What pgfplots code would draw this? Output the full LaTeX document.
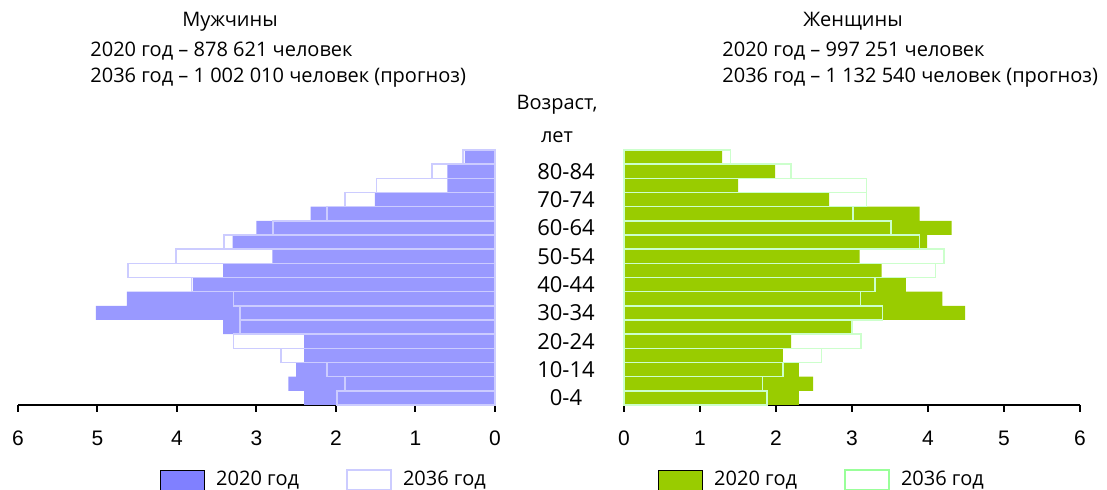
\documentclass[border=0pt]{standalone}
\usepackage{fontspec}
\setmainfont{Open Sans}
\newfontfamily\numfont{Liberation Sans}
\usepackage{pgfplots}
\pgfplotsset{compat=1.18}
\usepackage{pgfplotstable}

\definecolor{menfill}{HTML}{9999FF}
\definecolor{menline}{HTML}{CCCCFF}
\definecolor{menleg}{HTML}{8080FF}
\definecolor{womfill}{HTML}{99CC00}
\definecolor{womline}{HTML}{CCFFCC}
\definecolor{womlegline}{HTML}{99FF99}

\pgfplotstableread{
idx m2020 m2036 f2020 f2036
0  2.40 1.99 2.30 1.88
1  2.60 1.89 2.49 1.82
2  2.50 2.11 2.30 2.09
3  2.40 2.69 2.09 2.60
4  2.40 3.29 2.20 3.12
5  3.42 3.21 3.00 3.00
6  5.02 3.21 4.49 3.40
7  4.63 3.29 4.19 3.11
8  3.80 3.82 3.71 3.30
9  3.42 4.62 3.39 4.10
10 2.80 4.01 3.10 4.21
11 3.30 3.41 3.99 3.89
12 3.00 2.79 4.31 3.51
13 2.32 2.11 3.89 3.01
14 1.51 1.89 2.70 3.19
15 0.60 1.49 1.50 3.19
16 0.60 0.79 1.99 2.20
17 0.38 0.40 1.29 1.40
}\pyrdata

\newcommand\hdrfont{\fontsize{10}{12}\selectfont}
\newcommand\lblfont{\fontsize{10}{12}\selectfont}
\newcommand\agefont{\fontsize{11}{13}\selectfont}

\pgfplotsset{
  pyr/.style={
    scale only axis, height=127.5pt,
    ymin=-0.5, ymax=17.5, xmin=0, xmax=6,
    xbar, bar width=1, bar shift=0pt,
    axis x line*=bottom,
    axis line style={line width=1pt, black},
    xtick={0,...,6}, tick align=outside, major tick length=3.5pt,
    x tick style={line width=1pt, black},
    ytick=\empty,
    /pgf/number format/assume math mode=true,
    xticklabel style={font=\numfont\fontsize{10.5}{12}\selectfont, yshift=-6pt},
    clip=false,
    legend image code/.code={\draw[#1] (0pt,-5pt) rectangle (22pt,5pt);},
    legend style={draw=none, fill=none, legend columns=2, anchor=west,
      inner sep=0pt, font=\lblfont,
      nodes={inner sep=0pt},
      /tikz/every even column/.append style={column sep=23.5pt},
      /tikz/every odd column/.append style={column sep=5.5pt}},
    legend cell align=left,
  }
}

\begin{document}
\begin{tikzpicture}[x=0.5pt,y=0.5pt]
\useasboundingbox (0,0) rectangle (1107,490);

\node[font=\hdrfont, anchor=base] at (230,463) {Мужчины};
\node[font=\hdrfont, anchor=base west, inner sep=0pt] at (90,433) {2020 год – 878 621 человек};
\node[font=\hdrfont, anchor=base west, inner sep=0pt] at (90,407) {2036 год – 1 002 010 человек (прогноз)};
\node[font=\hdrfont, anchor=base] at (853,463) {Женщины};
\node[font=\hdrfont, anchor=base west, inner sep=0pt] at (722,433) {2020 год – 997 251 человек};
\node[font=\hdrfont, anchor=base west, inner sep=0pt] at (722,407) {2036 год – 1 132 540 человек (прогноз)};
\node[font=\hdrfont, anchor=base] at (557,380) {Возраст,};
\node[font=\hdrfont, anchor=base] at (557,347) {лет};

% Men
\begin{axis}[pyr, at={(9pt,42.5pt)}, anchor=south west, width=238.5pt,
  x dir=reverse, axis y line*=right,
  legend style={at={(axis description cs:0.2977,-0.294)}}]
  \addlegendimage{fill=menleg, draw=none}
  \addlegendentry{2020 год}
  \addlegendimage{fill=white, draw=menline, line width=1pt}
  \addlegendentry{2036 год}
  \addplot[fill=menfill, draw=none, forget plot] table[x=m2020, y=idx] {\pyrdata};
  \addplot[fill=none, draw=menline, line width=0.8pt, forget plot] table[x=m2036, y=idx] {\pyrdata};
\end{axis}

% Women
\begin{axis}[pyr, at={(312pt,42.5pt)}, anchor=south west, width=228pt,
  axis y line*=left,
  ytick={0,2,...,16},
  yticklabels={0-4,10-14,20-24,30-34,40-44,50-54,60-64,70-74,80-84},
  y tick style={draw=none},
  yticklabel style={anchor=center, xshift=-25.5pt, font=\agefont},
  legend style={at={(axis description cs:0.0746,-0.294)}}]
  \addlegendimage{fill=womfill, draw=none}
  \addlegendentry{2020 год}
  \addlegendimage{fill=white, draw=womlegline, line width=1pt}
  \addlegendentry{2036 год}
  \addplot[fill=womfill, draw=none, forget plot] table[x=f2020, y=idx] {\pyrdata};
  \addplot[fill=none, draw=womline, line width=0.8pt, forget plot] table[x=f2036, y=idx] {\pyrdata};
\end{axis}
\end{tikzpicture}
\end{document}
